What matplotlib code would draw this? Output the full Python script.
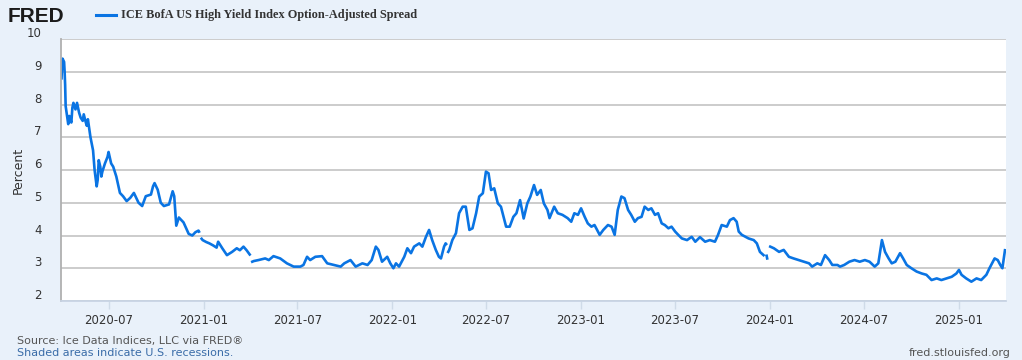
import numpy as np
import pandas as pd
import matplotlib
matplotlib.use("Agg")
import matplotlib.pyplot as plt
import matplotlib.dates as mdates
import matplotlib.transforms as mtransforms

# ICE BofA US High Yield Index OAS (percent)
dates = [
    "2020-04-01", "2020-04-02", "2020-04-03", "2020-04-06", "2020-04-07", "2020-04-08",
    "2020-04-09", "2020-04-13", "2020-04-14", "2020-04-16", "2020-04-20", "2020-04-22",
    "2020-04-24", "2020-04-28", "2020-05-01", "2020-05-05", "2020-05-08", "2020-05-12",
    "2020-05-14", "2020-05-18", "2020-05-20", "2020-05-22", "2020-05-27", "2020-06-01",
    "2020-06-04", "2020-06-08", "2020-06-10", "2020-06-12", "2020-06-15", "2020-06-17",
    "2020-06-19", "2020-06-24", "2020-06-29", "2020-07-01", "2020-07-06", "2020-07-10",
    "2020-07-16", "2020-07-23", "2020-07-29", "2020-08-05", "2020-08-12", "2020-08-19",
    "2020-08-28", "2020-09-04", "2020-09-11", "2020-09-21", "2020-09-25", "2020-09-28",
    "2020-10-04", "2020-10-10", "2020-10-16", "2020-10-26", "2020-11-02", "2020-11-05",
    "2020-11-09", "2020-11-14", "2020-11-23", "2020-12-03", "2020-12-10", "2020-12-16",
    "2020-12-22", "2020-12-23", "2020-12-25", "2020-12-28", "2020-12-30", "2021-01-06",
    "2021-01-12", "2021-01-19", "2021-01-26", "2021-01-29", "2021-02-06", "2021-02-15",
    "2021-02-25", "2021-03-06", "2021-03-12", "2021-03-19", "2021-03-25", "2021-03-29",
    "2021-03-31", "2021-04-02", "2021-04-05", "2021-04-08", "2021-04-17", "2021-04-30",
    "2021-05-07", "2021-05-16", "2021-05-29", "2021-06-11", "2021-06-24", "2021-07-07",
    "2021-07-13", "2021-07-20", "2021-07-26", "2021-08-05", "2021-08-18", "2021-08-28",
    "2021-09-10", "2021-09-23", "2021-09-30", "2021-10-12", "2021-10-22", "2021-11-04",
    "2021-11-14", "2021-11-22", "2021-11-30", "2021-12-05", "2021-12-12", "2021-12-22",
    "2021-12-28", "2022-01-03", "2022-01-08", "2022-01-14", "2022-01-24", "2022-01-30",
    "2022-02-06", "2022-02-12", "2022-02-22", "2022-02-28", "2022-03-07", "2022-03-13",
    "2022-03-19", "2022-03-26", "2022-04-01", "2022-04-05", "2022-04-11", "2022-04-14",
    "2022-04-15", "2022-04-17", "2022-04-19", "2022-04-21", "2022-04-27", "2022-05-04",
    "2022-05-10", "2022-05-17", "2022-05-23", "2022-05-30", "2022-06-05", "2022-06-12",
    "2022-06-18", "2022-06-25", "2022-07-01", "2022-07-06", "2022-07-11", "2022-07-17",
    "2022-07-24", "2022-07-30", "2022-08-09", "2022-08-16", "2022-08-23", "2022-08-29",
    "2022-09-05", "2022-09-12", "2022-09-19", "2022-09-25", "2022-10-02", "2022-10-08",
    "2022-10-15", "2022-10-21", "2022-10-28", "2022-11-01", "2022-11-10", "2022-11-17",
    "2022-11-26", "2022-12-06", "2022-12-13", "2022-12-19", "2022-12-26", "2023-01-01",
    "2023-01-08", "2023-01-14", "2023-01-21", "2023-01-27", "2023-02-06", "2023-02-13",
    "2023-02-22", "2023-03-01", "2023-03-07", "2023-03-13", "2023-03-20", "2023-03-26",
    "2023-04-02", "2023-04-08", "2023-04-15", "2023-04-21", "2023-04-28", "2023-05-04",
    "2023-05-11", "2023-05-17", "2023-05-24", "2023-05-30", "2023-06-06", "2023-06-12",
    "2023-06-19", "2023-06-25", "2023-07-02", "2023-07-08", "2023-07-15", "2023-07-25",
    "2023-08-03", "2023-08-10", "2023-08-19", "2023-08-29", "2023-09-07", "2023-09-17",
    "2023-09-23", "2023-09-30", "2023-10-10", "2023-10-16", "2023-10-23", "2023-10-29",
    "2023-11-02", "2023-11-08", "2023-11-15", "2023-11-21", "2023-12-01", "2023-12-07",
    "2023-12-13", "2023-12-20", "2023-12-23", "2023-12-26", "2023-12-27", "2023-12-29",
    "2024-01-02", "2024-01-09", "2024-01-19", "2024-01-28", "2024-02-07", "2024-02-16",
    "2024-02-26", "2024-03-07", "2024-03-17", "2024-03-23", "2024-04-02", "2024-04-09",
    "2024-04-17", "2024-04-25", "2024-05-01", "2024-05-11", "2024-05-16", "2024-05-24",
    "2024-06-03", "2024-06-13", "2024-06-23", "2024-07-03", "2024-07-12", "2024-07-22",
    "2024-07-29", "2024-08-05", "2024-08-11", "2024-08-18", "2024-08-24", "2024-08-31",
    "2024-09-09", "2024-09-15", "2024-09-22", "2024-10-01", "2024-10-11", "2024-10-21",
    "2024-10-30", "2024-11-09", "2024-11-19", "2024-11-28", "2024-12-08", "2024-12-18",
    "2024-12-27", "2025-01-01", "2025-01-06", "2025-01-15", "2025-01-25", "2025-02-04",
    "2025-02-13", "2025-02-23", "2025-03-01", "2025-03-11", "2025-03-17", "2025-03-22",
    "2025-03-26", "2025-03-31",
]
spread = [
    8.8, 9.2, 9.4, 9.3, 9.0, 8.6,
    7.95, 7.5, 7.4, 7.65, 7.45, 7.9,
    8.05, 7.85, 8.05, 7.75, 7.6, 7.5,
    7.7, 7.45, 7.35, 7.55, 7.0, 6.6,
    6.0, 5.5, 5.7, 6.3, 6.1, 5.8,
    5.95, 6.2, 6.4, 6.55, 6.2, 6.1,
    5.8, 5.3, 5.2, 5.05, 5.15, 5.3,
    5.0, 4.9, 5.2, 5.25, 5.5, 5.6,
    5.4, 5.0, 4.9, 4.95, 5.35, 5.2,
    4.3, 4.55, 4.4, 4.05, 4.0, 4.1,
    4.15, 4.12, np.nan, 3.9, 3.86, 3.8,
    3.76, 3.7, 3.63, 3.81, 3.61, 3.4,
    3.5, 3.61, 3.55, 3.66, 3.55, 3.46,
    3.42, np.nan, 3.2, 3.22, 3.25, 3.3,
    3.25, 3.37, 3.3, 3.15, 3.05, 3.05,
    3.1, 3.35, 3.25, 3.35, 3.37, 3.15,
    3.1, 3.05, 3.15, 3.25, 3.05, 3.15,
    3.1, 3.25, 3.66, 3.56, 3.2, 3.35,
    3.15, 3.0, 3.15, 3.05, 3.35, 3.61,
    3.46, 3.66, 3.76, 3.66, 3.96, 4.17,
    3.86, 3.56, 3.35, 3.3, 3.66, 3.76,
    3.74, np.nan, 3.5, 3.56, 3.86, 4.07,
    4.68, 4.88, 4.88, 4.17, 4.22, 4.68,
    5.19, 5.29, 5.95, 5.9, 5.39, 5.44,
    4.98, 4.88, 4.27, 4.27, 4.57, 4.68,
    5.08, 4.52, 4.98, 5.19, 5.54, 5.24,
    5.39, 4.98, 4.78, 4.53, 4.88, 4.68,
    4.63, 4.53, 4.42, 4.68, 4.63, 4.83,
    4.57, 4.37, 4.27, 4.32, 4.02, 4.17,
    4.32, 4.27, 4.02, 4.78, 5.19, 5.14,
    4.78, 4.63, 4.42, 4.53, 4.57, 4.88,
    4.78, 4.83, 4.63, 4.68, 4.37, 4.32,
    4.22, 4.27, 4.12, 4.02, 3.91, 3.86,
    3.96, 3.81, 3.95, 3.81, 3.86, 3.81,
    4.02, 4.32, 4.27, 4.47, 4.53, 4.42,
    4.12, 4.02, 3.96, 3.91, 3.86, 3.76,
    3.5, 3.4, np.nan, 3.38, 3.3, np.nan,
    3.66, 3.61, 3.5, 3.56, 3.35, 3.3,
    3.25, 3.2, 3.15, 3.05, 3.15, 3.1,
    3.4, 3.25, 3.1, 3.1, 3.05, 3.1,
    3.2, 3.25, 3.2, 3.25, 3.2, 3.05,
    3.15, 3.86, 3.5, 3.3, 3.15, 3.2,
    3.46, 3.3, 3.1, 3.0, 2.9, 2.84,
    2.8, 2.64, 2.69, 2.64, 2.69, 2.74,
    2.84, 2.95, 2.8, 2.69, 2.59, 2.69,
    2.64, 2.8, 3.0, 3.3, 3.25, 3.1,
    3.0, 3.55,
]
x_ticks = ["2020-07-01", "2021-01-01", "2021-07-01", "2022-01-01", "2022-07-01",
           "2023-01-01", "2023-07-01", "2024-01-01", "2024-07-01", "2025-01-01"]
y_ticks = [2, 3, 4, 5, 6, 7, 8, 9, 10]

bg = "#e9f1fa"
line_color = "#0a74e3"
grid_color = "#cccccc"

fig = plt.figure(figsize=(10.22, 3.6), dpi=100, facecolor=bg)
ax = fig.add_axes([61 / 1022, 59 / 360, 945 / 1022, 262 / 360])
ax.set_facecolor("white")

d = pd.to_datetime(dates)
ax.plot(d, spread, color=line_color, lw=1.9, solid_joinstyle="round")

ax.set_xlim(pd.Timestamp("2020-03-31"), pd.Timestamp("2025-04-02"))
ax.set_ylim(2, 10)
ax.set_yticks(y_ticks)
ax.set_xticks(pd.to_datetime(x_ticks))
ax.xaxis.set_major_formatter(mdates.DateFormatter("%Y-%m"))
ax.grid(axis="y", color=grid_color, lw=1.4)
ax.set_axisbelow(True)

for s in ["top", "right"]:
    ax.spines[s].set_visible(False)
ax.spines["left"].set_color("#b0b0b0")
ax.spines["left"].set_linewidth(1.3)
ax.spines["bottom"].set_color("#c8d4e4")
ax.spines["bottom"].set_linewidth(1.3)

ax.tick_params(axis="y", length=0, pad=14, labelsize=8.5, labelcolor="#333333")
ax.tick_params(axis="x", length=6, width=1, color="#cfdbe8", pad=3,
               labelsize=8.5, labelcolor="#333333")
# FRED puts y labels a bit above the grid line
off = mtransforms.ScaledTranslation(0, 5 / 72, fig.dpi_scale_trans)
for lab in ax.get_yticklabels():
    lab.set_transform(lab.get_transform() + off)

ax.set_ylabel("Percent", fontsize=9, color="#333333")
ax.yaxis.set_label_coords(-0.038, 0.5)

# header
fig.text(8 / 1022, 1 - 16 / 360, "FRED", fontsize=15, fontweight="bold",
         color="#1b1b1b", va="center", ha="left", family="Liberation Sans")
fig.lines.append(plt.Line2D([96 / 1022, 116 / 1022], [1 - 15 / 360, 1 - 15 / 360],
                            transform=fig.transFigure, color=line_color, lw=2.2))
fig.text(121 / 1022, 1 - 15 / 360, "ICE BofA US High Yield Index Option-Adjusted Spread",
         fontsize=8.8, fontweight="bold", color="#333333", va="center", ha="left",
         family="Liberation Serif")

# footer
fig.text(17 / 1022, 1 - 341 / 360, "Source: Ice Data Indices, LLC via FRED®",
         fontsize=8, color="#555555", va="center", ha="left")
fig.text(17 / 1022, 1 - 353 / 360, "Shaded areas indicate U.S. recessions.",
         fontsize=8, color="#3a6ca8", va="center", ha="left")
fig.text(1011 / 1022, 1 - 353 / 360, "fred.stlouisfed.org",
         fontsize=8, color="#555555", va="center", ha="right")

fig.savefig("out.png", dpi=100, facecolor=bg)
